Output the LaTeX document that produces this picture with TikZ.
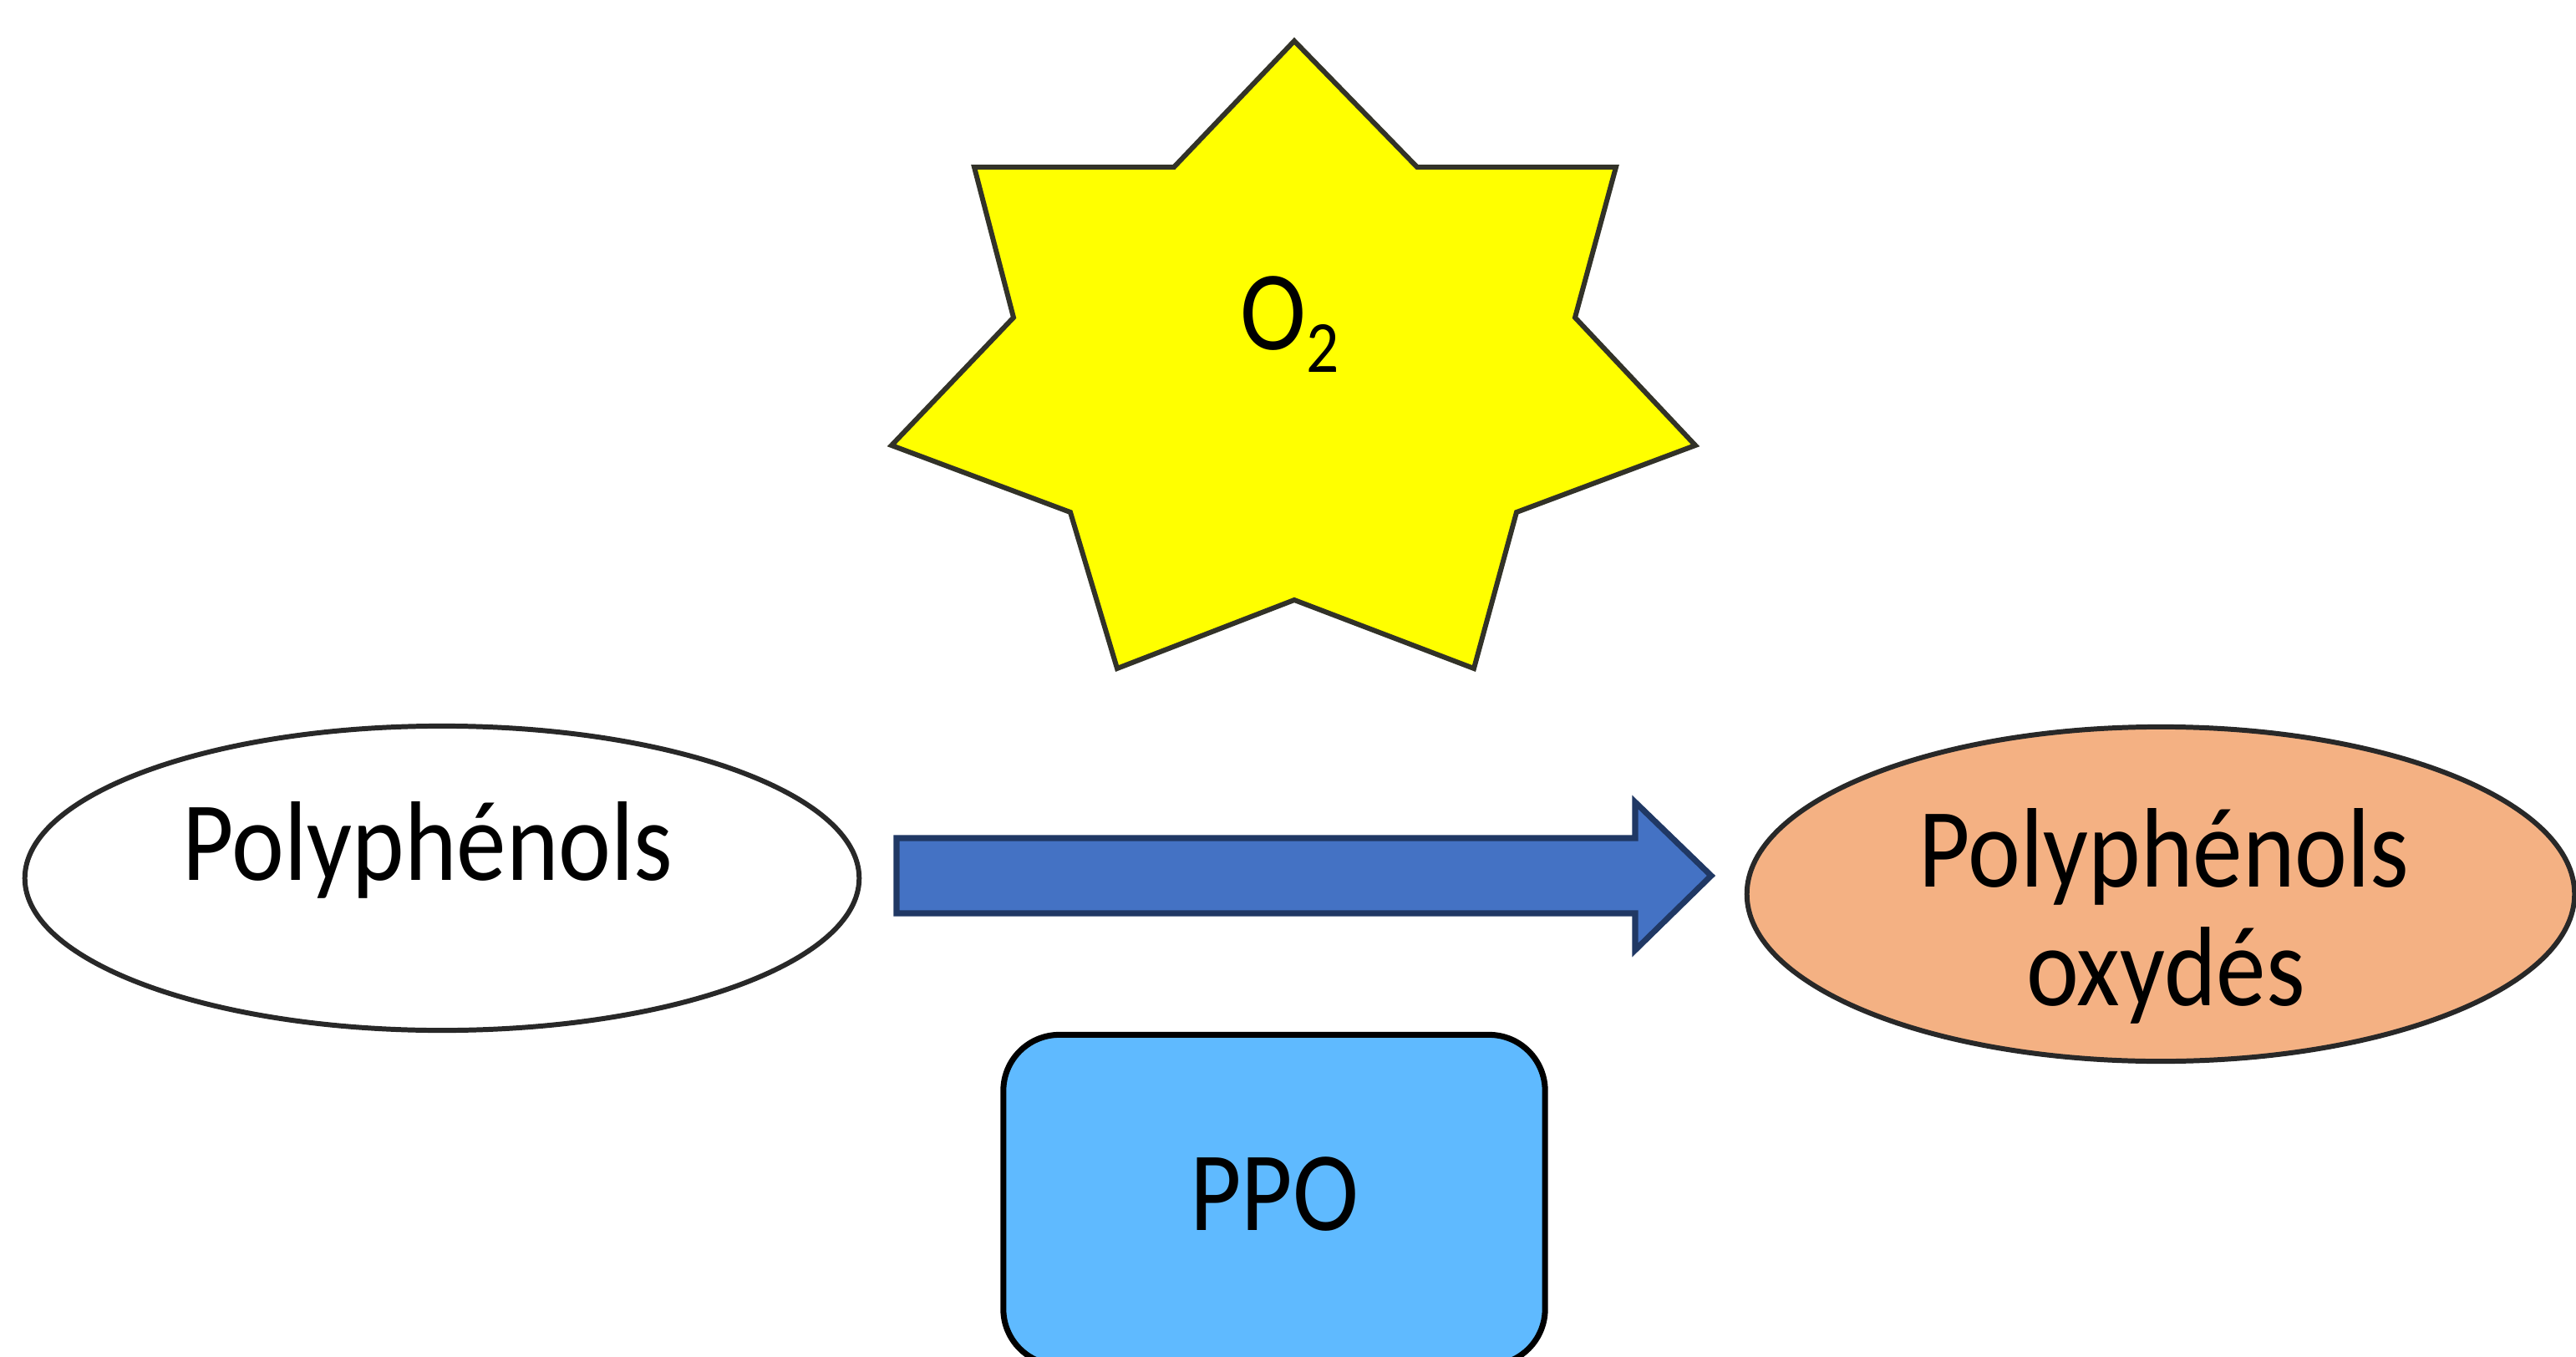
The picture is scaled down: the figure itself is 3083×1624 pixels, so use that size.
\documentclass[tikz,border=0pt]{standalone}
\usepackage{fontspec}
\setmainfont[FakeStretch=0.88]{Carlito}
\usetikzlibrary{shapes.geometric}
\definecolor{staryellow}{RGB}{255,255,0}
\definecolor{starline}{RGB}{50,50,40}
\definecolor{ellline}{RGB}{40,40,40}
\definecolor{peach}{RGB}{244,177,131}
\definecolor{arrowblue}{RGB}{68,114,196}
\definecolor{arrowline}{RGB}{32,56,100}
\definecolor{ppoblue}{RGB}{95,186,255}
\tikzset{
  lbl/.style={inner sep=0pt, font=\fontsize{38.5}{40}\selectfont, text=black},
  ell/.style={ellipse, draw=ellline, line width=1.7pt, inner sep=0pt},
  ppobox/.style={rectangle, draw=black, line width=2pt, fill=ppoblue, rounded corners=0.67cm, inner sep=0pt},
}
\begin{document}
\begin{tikzpicture}[x=0.01cm, y=-0.01cm]
\clip (0,0) rectangle (3083,1624);
\fill[white] (0,0) rectangle (3083,1624);
% star
\draw[fill=staryellow, draw=starline, line width=1.7pt, line join=miter]
  (1549,49) -- (1696,200) -- (1934,200) -- (1885,380) -- (2029,533) -- (1815,613)
  -- (1764,800) -- (1549,718) -- (1337,800) -- (1281,613) -- (1067,533)
  -- (1213,380) -- (1166,200) -- (1405,200) -- cycle;
\node[lbl, anchor=base west] (o2) at (1484,418) {O\raisebox{-0.27cm}{\fontsize{25}{30}\selectfont 2}};
% ellipses
\node[ell, fill=white, minimum width=9.98cm, minimum height=3.64cm] (poly) at (529,1051) {};
\node[lbl, anchor=base] (polytxt) at (512,1053) {Polyphénols};
\node[ell, fill=peach, minimum width=9.90cm, minimum height=4.00cm] (oxy) at (2586,1070) {};
\node[lbl, anchor=base] (oxytxt1) at (2590,1061) {Polyphénols};
\node[lbl, anchor=base] (oxytxt2) at (2592,1203) {oxydés};
% block arrow
\coordinate (as) at (1073,1048);
\coordinate (at) at (2048,1048);
\draw[fill=arrowblue, draw=arrowline, line width=2pt, line join=miter]
  (as) ++(0,-45) -- (1957,1003) -- (1957,960) -- (at) -- (1957,1137) -- (1957,1093) -- (1073,1093) -- cycle;
% PPO box
\node[ppobox, minimum width=6.48cm, minimum height=3.95cm] (ppo) at (1525,1436) {};
\node[lbl, anchor=base] (ppotxt) at (1525,1472) {PPO};
\end{tikzpicture}
\end{document}
